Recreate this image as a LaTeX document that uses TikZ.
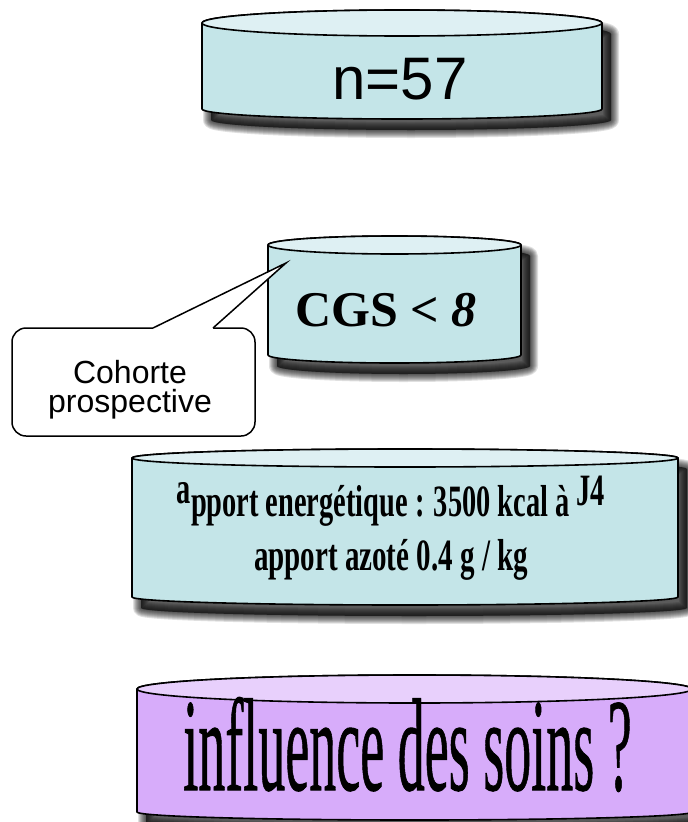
\documentclass[tikz,border=0pt]{standalone}
\usepackage{fontspec}
\setmainfont{Liberation Serif}
\newfontfamily\arialfont{Liberation Sans}
\newfontfamily\heavyserif[FakeBold=0.8]{Liberation Serif}

\definecolor{cylbody}{RGB}{196,229,232}
\definecolor{cyltop}{RGB}{222,240,243}
\definecolor{lavbody}{RGB}{215,172,250}
\definecolor{lavtop}{RGB}{232,208,252}

\tikzset{
  cylline/.style={draw=black, line width=1.6pt, line join=round},
  shadowlayer/.style={draw=black, fill=black, opacity=0.12, line join=round,
      shift={(9,-11)}},
  calloutbox/.style={draw=black, line width=1.5pt, fill=white,
      rounded corners=14pt, inner sep=0pt},
  sanslabel/.style={anchor=base, font=\arialfont\fontsize{32}{32}\selectfont},
}

% cylinder: left, right, top centre y, top y radius, bottom centre y,
% bottom y radius, body colour, lid colour (y measured downwards)
\newcommand\drawcyl[8]{%
  \pgfmathsetmacro\cylcx{(#1+#2)/2}%
  \pgfmathsetmacro\cylrx{(#2-#1)/2}%
  % soft drop shadow built from growing translucent copies
  \foreach \g in {1,...,8}{%
    \pgfmathsetmacro\cyllw{2*\g}%
    \path[shadowlayer, line width=\cyllw pt] (#1,-#3) -- (#1,-#5)
      arc[start angle=180, end angle=360, x radius=\cylrx, y radius=#6]
      -- (#2,-#3)
      arc[start angle=0, end angle=180, x radius=\cylrx, y radius=#4] -- cycle;
  }%
  \draw[cylline, fill=#7] (#1,-#3) -- (#1,-#5)
    arc[start angle=180, end angle=360, x radius=\cylrx, y radius=#6]
    -- (#2,-#3)
    arc[start angle=0, end angle=180, x radius=\cylrx, y radius=#4] -- cycle;
  \draw[cylline, fill=#8] (\cylcx,-#3) ellipse[x radius=\cylrx, y radius=#4];
}

\begin{document}
\begin{tikzpicture}[x=1pt, y=1pt]
\useasboundingbox (0,0) rectangle (688,-822);

% the four stacked cylinders
\drawcyl{202}{602}{23}{13}{109}{10}{cylbody}{cyltop}
\drawcyl{268}{521}{245}{9}{355}{8}{cylbody}{cyltop}
\drawcyl{132}{678}{458}{9}{597}{8}{cylbody}{cyltop}
\drawcyl{137}{692}{689}{14}{812}{8}{lavbody}{lavtop}

% cylinder captions
\node[anchor=base, font=\arialfont\fontsize{60}{60}\selectfont] (n57) at (400,-99) {n=57};
\node[anchor=base, font=\bfseries\fontsize{50}{50}\selectfont] (cgs) at (386,-326) {CGS < \textit{8}};
\node[anchor=base, font=\bfseries\fontsize{40}{40}\selectfont] (energie) at (391,-516)
  {\scalebox{0.71}[1.12]{\raisebox{11pt}{a}pport energétique : 3500 kcal à \raisebox{9pt}{J4}}};
\node[anchor=base, font=\bfseries\fontsize{40}{40}\selectfont] (azote) at (391,-570)
  {\scalebox{0.725}[1.12]{apport azoté 0.4 g / kg}};
\node[anchor=base, font=\heavyserif\fontsize{100}{100}\selectfont] (soins) at (407.5,-790)
  {\scalebox{0.54}[1.32]{influence des soins ?}};

% callout with its pointer into the second cylinder
\node[calloutbox, minimum width=243pt, minimum height=108pt] (coh) at (133.5,-382) {};
\coordinate (tip) at (286,-263);
\coordinate (pa) at (153,-328);
\coordinate (pb) at (213,-328);
\fill[white] (pa) -- (tip) -- (pb) -- (213,-330) -- (153,-330) -- cycle;
\draw[line width=1.5pt, line join=miter] (pa) -- (tip) -- (pb);
\node[sanslabel] (cohA) at (130,-383) {Cohorte};
\node[sanslabel] (cohB) at (130,-412) {prospective};
\end{tikzpicture}
\end{document}
